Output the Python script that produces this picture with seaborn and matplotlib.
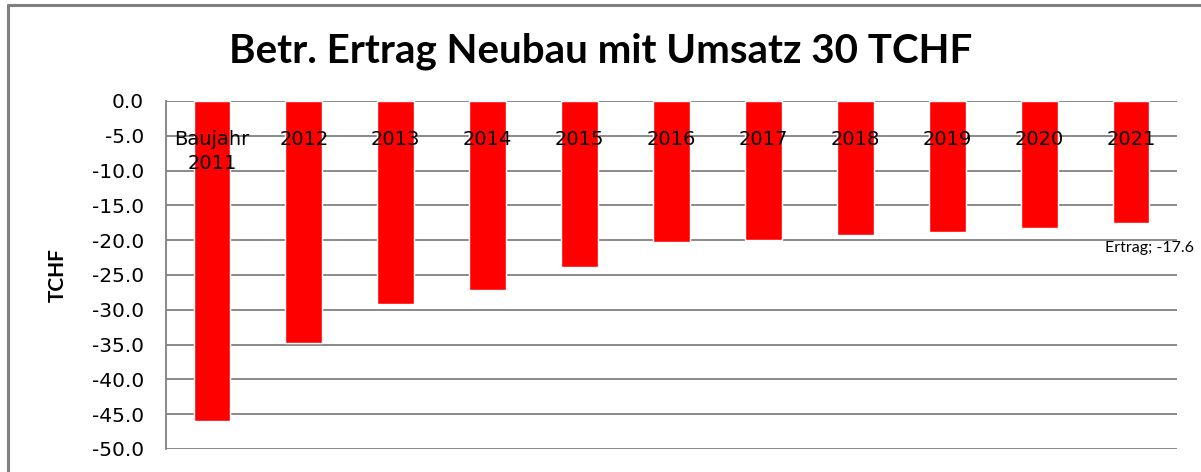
import matplotlib
matplotlib.use("Agg")
import matplotlib.pyplot as plt
import seaborn as sns
import pandas as pd
from matplotlib.lines import Line2D

categories = ["Baujahr\n2011", "2012", "2013", "2014", "2015", "2016",
              "2017", "2018", "2019", "2020", "2021"]
ertrag = [-46.0, -34.8, -29.2, -27.1, -23.8, -20.3, -19.9, -19.2, -18.8, -18.2, -17.6]
yticks = [0, -5, -10, -15, -20, -25, -30, -35, -40, -45, -50]

sns.set_theme(style="white")
plt.rcParams['font.family'] = ['DejaVu Sans']

df = pd.DataFrame({"Jahr": categories, "Ertrag": ertrag})

W, H = 1201, 472
fig = plt.figure(figsize=(W / 100, H / 100), dpi=100)
fig.patch.set_facecolor("white")
ax = fig.add_axes([166 / W, 1 - 449 / H, (1177 - 166) / W, (449 - 101) / H])

sns.barplot(data=df, x="Jahr", y="Ertrag", color="#FF0000", saturation=1,
            width=0.4, ax=ax, order=categories)

ax.set_ylim(-50, 0)
ax.set_xlim(-0.5, len(categories) - 0.5)
ax.set_yticks(yticks)
ax.set_yticklabels([f"{v:.1f}" for v in yticks], fontsize=14.5, color="black")
ax.yaxis.grid(True, color="#808080", linewidth=1.3)
ax.set_axisbelow(True)
for s in ["top", "right", "bottom"]:
    ax.spines[s].set_visible(False)
ax.spines["left"].set_color("#808080")
ax.spines["left"].set_linewidth(1.3)
ax.tick_params(axis="y", length=0, pad=16)

ax.set_ylabel("TCHF", fontsize=15, fontweight="bold", color="black", labelpad=17,
              family="Lato")
ax.set_xlabel("")

ax.xaxis.tick_top()
ax.tick_params(axis="x", length=0, pad=-21, labelsize=14, labelcolor="black",
               top=False, bottom=False)
for lbl in ax.get_xticklabels():
    lbl.set_va("top")
    lbl.set_multialignment("center")
    lbl.set_linespacing(1.35)
ax.xaxis.set_zorder(5)

ax.annotate(f"Ertrag; {ertrag[-1]:.1f}", xy=(len(categories) - 1, ertrag[-1]),
            xytext=(45, -18), textcoords="offset points", ha="right", va="center",
            fontsize=11.5, family="Lato", color="black")

fig.text(0.5, 1 - 51 / H, "Betr. Ertrag Neubau mit Umsatz 30 TCHF",
         ha="center", va="center", fontsize=29, fontweight="bold", family="Lato",
         color="black")

fig.add_artist(Line2D([8 / W, 8 / W], [0, 1 - 5 / H], color="#808080", linewidth=2.2,
                      transform=fig.transFigure))
fig.add_artist(Line2D([8 / W, 1], [1 - 5 / H, 1 - 5 / H], color="#808080", linewidth=2.2,
                      transform=fig.transFigure))

fig.savefig("out.png", dpi=100)
